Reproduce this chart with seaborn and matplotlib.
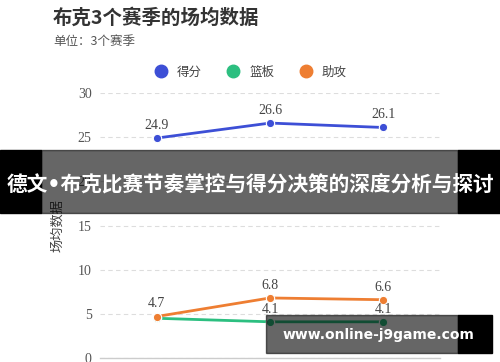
import numpy as np
import pandas as pd
import seaborn as sns
import matplotlib.pyplot as plt
from matplotlib.patches import Rectangle
from matplotlib.lines import Line2D

# 数据
seasons = ['2021-22', '2022-23', '2023-24']
points = [24.9, 26.6, 26.1]
rebounds = [4.5, 4.1, 4.1]
assists = [4.7, 6.8, 6.6]
series_names = ['得分', '篮板', '助攻']
colors = ['#3d4fd6', '#2cbf80', '#ee7e32']
y_ticks = [0, 5, 10, 15, 20, 25, 30]

df = pd.DataFrame({
    'season': seasons * 3,
    'value': points + rebounds + assists,
    'stat': [n for n in series_names for _ in seasons],
})
df['x'] = df['season'].map({s: i for i, s in enumerate(seasons)})

sns.set_theme(style='white')
plt.rcParams['font.family'] = ['Noto Sans CJK SC', 'DejaVu Sans']
serif = ['Liberation Serif', 'DejaVu Serif']

fig = plt.figure(figsize=(5, 3.62), dpi=100)
ax = fig.add_axes([0.2, 0.011, 0.68, 0.732])

for name in ['得分', '篮板', '助攻']:
    sub = df[df['stat'] == name]
    c = colors[series_names.index(name)]
    sns.lineplot(data=sub, x='x', y='value', ax=ax, color=c, linewidth=2,
                 marker='o', markersize=6, markeredgecolor='white',
                 markeredgewidth=0.8, legend=False)
    for xv, yv in zip(sub['x'], sub['value']):
        # 被助攻标签遮住的篮板标签不显示
        if name == '篮板' and abs(yv - assists[xv]) < 0.5:
            continue
        ax.text(xv, yv + 0.7, f'{yv}', ha='center', va='bottom',
                fontsize=10, color='#444444', family=serif)

ax.set_xlim(-0.5, 2.5)
ax.set_ylim(0, 30)
ax.set_yticks(y_ticks)
ax.set_yticklabels([str(t) for t in y_ticks], family=serif, fontsize=10,
                   color='#555555')
ax.set_xticks(range(len(seasons)))
ax.set_xticklabels(['' for _ in seasons])
ax.tick_params(axis='x', length=5, color='#bbbbbb', width=1)
ax.tick_params(axis='y', length=0, pad=6)
ax.set_xlabel('')
ax.set_ylabel('场均数据', fontsize=9.5, color='#444444', labelpad=10)
ax.yaxis.grid(True, linestyle=(0, (4, 3)), color='#dddddd', linewidth=0.8)
for s in ['top', 'right', 'left']:
    ax.spines[s].set_visible(False)
ax.spines['bottom'].set_color('#cccccc')
ax.spines['bottom'].set_linewidth(1)

# 标题
fig.text(53 / 500, 1 - 18 / 362, '布克3个赛季的场均数据', fontsize=14,
         fontweight='bold', color='#333333', va='center')
fig.text(53 / 500, 1 - 41 / 362, '单位：3个赛季', fontsize=9,
         color='#555555', va='center')

# 图例
handles = [Line2D([], [], marker='o', linestyle='', markersize=9,
                  markerfacecolor=c, markeredgecolor=c) for c in colors]
fig.legend(handles, series_names, loc='center', bbox_to_anchor=(0.495, 1 - 72 / 362),
           ncol=3, frameon=False, fontsize=9, handletextpad=0.3,
           columnspacing=1.5, labelcolor='#444444')

# 覆盖横幅
fig.patches.append(Rectangle((0, 1 - 213 / 362), 41 / 500, 63 / 362,
                             transform=fig.transFigure, color='black', zorder=10))
fig.patches.append(Rectangle((458 / 500, 1 - 213 / 362), 42 / 500, 63 / 362,
                             transform=fig.transFigure, color='black', zorder=10))
fig.patches.append(Rectangle((41 / 500, 1 - 213 / 362), 417 / 500, 63 / 362,
                             transform=fig.transFigure, color='black', alpha=0.6,
                             zorder=10))
fig.text(0.5, 1 - 185 / 362, '德文•布克比赛节奏掌控与得分决策的深度分析与探讨',
         ha='center', va='center', fontsize=14.9, fontweight='bold',
         color='white', family=['DejaVu Sans', 'Noto Sans CJK SC'], zorder=11)

# 水印
fig.patches.append(Rectangle((266 / 500, 1 - 353 / 362), 192 / 500, 38 / 362,
                             transform=fig.transFigure, color='black', alpha=0.6,
                             zorder=10))
fig.patches.append(Rectangle((458 / 500, 1 - 353 / 362), 34 / 500, 38 / 362,
                             transform=fig.transFigure, color='black', zorder=10))
fig.text(378 / 500, 1 - 335 / 362, 'www.online-j9game.com', ha='center',
         va='center', fontsize=10, fontweight='bold', color='white',
         family=['DejaVu Sans'], zorder=11)

fig.savefig('out.png', dpi=100)
